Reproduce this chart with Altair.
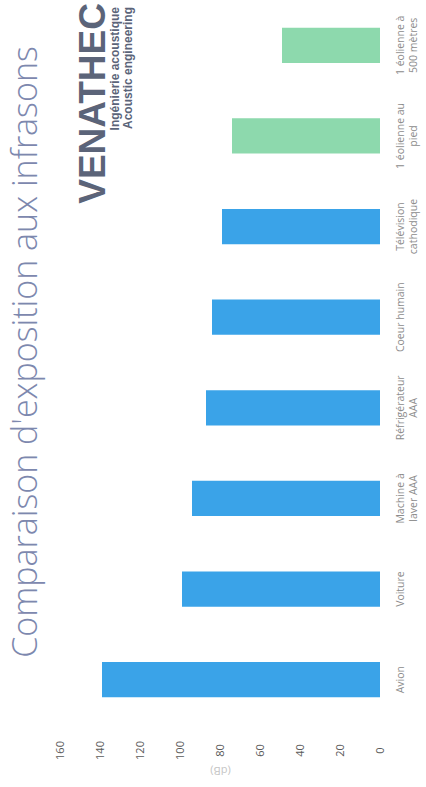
import altair as alt
import pandas as pd

categories = [
    "1 éolienne à|500 mètres",
    "1 éolienne au|pied",
    "Télévision|cathodique",
    "Coeur humain",
    "Réfrigérateur|AAA",
    "Machine à|laver AAA",
    "Voiture",
    "Avion",
]
values = [49, 74, 79, 84, 87, 94, 99, 139]
groups = ["éolienne", "éolienne", "quotidien", "quotidien", "quotidien", "quotidien", "quotidien", "quotidien"]
value_ticks = [0, 20, 40, 60, 80, 100, 120, 140, 160]
title_text = "Comparaison d'exposition aux infrasons"
logo_text = "VENATHEC"
logo_lines = ["Ingénierie acoustique", "Acoustic engineering"]

df = pd.DataFrame({"cat": categories, "val": values, "grp": groups})

bars = alt.Chart(df).mark_bar().encode(
    y=alt.Y(
        "cat:N",
        sort=categories,
        scale=alt.Scale(paddingInner=0.61, paddingOuter=0.305),
        axis=alt.Axis(
            orient="right",
            title=None,
            domain=False,
            ticks=False,
            labelAngle=270,
            labelAlign="center",
            labelBaseline="middle",
            labelPadding=20,
            labelFont="Open Sans",
            labelFontSize=10.5,
            labelColor="#8c8c8c",
            labelLineHeight=13,
            labelExpr="split(datum.label, '|')",
        ),
    ),
    x=alt.X(
        "val:Q",
        scale=alt.Scale(domain=[0, 160], reverse=True, nice=False),
        axis=alt.Axis(
            orient="bottom",
            values=value_ticks,
            title="(dB)",
            titleAngle=180,
            titleColor="#c4c4c4",
            titleFont="Open Sans",
            titleFontSize=11,
            titleFontWeight="normal",
            titlePadding=16,
            domain=False,
            ticks=False,
            grid=False,
            labelAngle=270,
            labelAlign="center",
            labelBaseline="middle",
            labelPadding=25,
            labelFont="Open Sans",
            labelFontSize=11,
            labelColor="#5a5a5a",
        ),
    ),
    color=alt.Color(
        "grp:N",
        scale=alt.Scale(domain=["quotidien", "éolienne"], range=["#3aa3e8", "#8dd9ad"]),
        legend=None,
    ),
)

title_mark = alt.Chart(pd.DataFrame({"t": [title_text]})).mark_text(
    angle=270, font="Open Sans", fontWeight=300, fontSize=34,
    color="#7d88ae", align="center", baseline="middle",
).encode(x=alt.value(-33), y=alt.value(352), text="t:N")

logo_big = alt.Chart(pd.DataFrame({"t": [logo_text]})).mark_text(
    angle=270, font="Liberation Sans", fontWeight="bold", fontSize=37,
    color="#5b6479", align="right", baseline="middle",
).encode(x=alt.value(34), y=alt.value(3), text="t:N")

logo_sub = alt.Chart(pd.DataFrame({"t": [logo_lines]})).mark_text(
    angle=270, font="Liberation Sans", fontWeight="bold", fontSize=12,
    color="#5b6479", align="right", baseline="top", lineHeight=12.5,
).encode(x=alt.value(50), y=alt.value(7), text="t")

chart = alt.layer(bars, title_mark, logo_big, logo_sub).properties(
    width=320,
    height=725,
    autosize=alt.AutoSizeParams(type="none"),
    padding={"left": 60, "top": 0, "right": 46, "bottom": 62},
).configure_view(stroke=None)

chart.save("out.html", embed_options={"renderer": "svg", "actions": False})
